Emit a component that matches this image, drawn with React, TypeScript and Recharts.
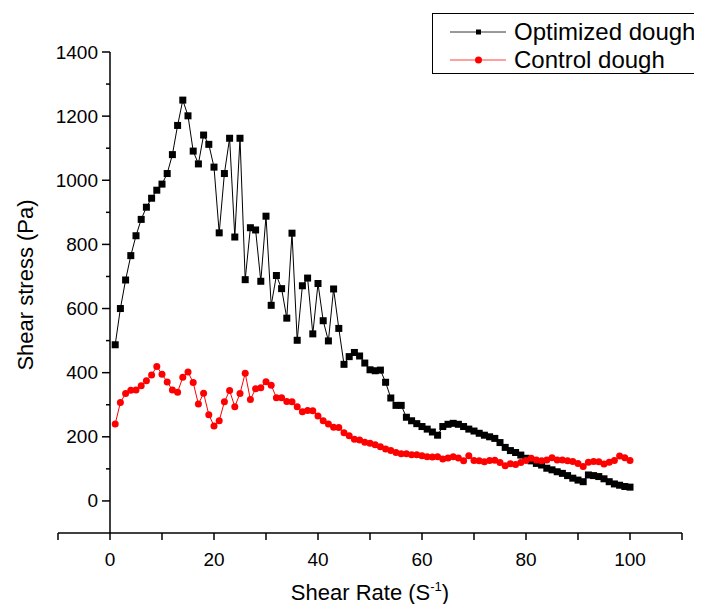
import { LineChart, Line, XAxis, YAxis, ReferenceLine } from "recharts"

const shearRate = [
  1, 2, 3, 4, 5, 6, 7, 8, 9, 10, 11, 12, 13, 14, 15, 16, 17, 18, 19, 20,
  21, 22, 23, 24, 25, 26, 27, 28, 29, 30, 31, 32, 33, 34, 35, 36, 37, 38, 39, 40,
  41, 42, 43, 44, 45, 46, 47, 48, 49, 50, 51, 52, 53, 54, 55, 56, 57, 58, 59, 60,
  61, 62, 63, 64, 65, 66, 67, 68, 69, 70, 71, 72, 73, 74, 75, 76, 77, 78, 79, 80,
  81, 82, 83, 84, 85, 86, 87, 88, 89, 90, 91, 92, 93, 94, 95, 96, 97, 98, 99, 100,
]

const optimizedStress = [
  487, 600, 689, 765, 827, 878, 916, 944, 969, 988,
  1021, 1080, 1171, 1250, 1201, 1091, 1051, 1141, 1112, 1041,
  836, 1021, 1131, 823, 1131, 690, 852, 845, 685, 888,
  610, 703, 662, 570, 835, 501, 671, 695, 521, 678,
  562, 499, 661, 538, 426, 450, 463, 452, 430, 409,
  406, 408, 370, 321, 298, 298, 261, 250, 241, 232,
  224, 215, 205, 232, 239, 242, 239, 232, 224, 218,
  211, 205, 200, 195, 182, 167, 157, 151, 143, 133,
  125, 117, 112, 102, 97, 91, 86, 79, 71, 65,
  60, 81, 79, 76, 69, 60, 53, 49, 45, 43,
]

const controlStress = [
  240, 307, 335, 345, 346, 359, 375, 393, 419, 395,
  371, 346, 339, 386, 402, 369, 302, 336, 269, 234,
  250, 309, 344, 294, 335, 398, 316, 350, 353, 372,
  361, 322, 322, 310, 309, 294, 278, 282, 281, 265,
  250, 240, 230, 229, 213, 203, 192, 190, 183, 180,
  175, 169, 162, 157, 151, 147, 147, 144, 144, 141,
  138, 137, 138, 131, 134, 138, 134, 125, 141, 126,
  125, 122, 126, 127, 120, 110, 116, 114, 120, 126,
  133, 128, 125, 128, 135, 128, 128, 125, 123, 117,
  107, 121, 123, 122, 115, 121, 126, 140, 135, 126,
]

const xTicks = [-10, 0, 10, 20, 30, 40, 50, 60, 70, 80, 90, 100, 110]
const yTicks = [0, 100, 200, 300, 400, 500, 600, 700, 800, 900, 1000, 1100, 1200, 1300, 1400]

const seriesNames = ["Optimized dough", "Control dough"]

const data = shearRate.map((x, i) => ({
  x,
  optimized: optimizedStress[i],
  control: controlStress[i],
}))

const FONT = "'Liberation Sans', Arial, sans-serif"
const W = 694
const H = 604
const Y_AXIS_W = 50
const MARGIN = { top: 44, right: 20, left: 0, bottom: 0 }
const X_MIN = -10
const X_MAX = 110
const PLOT_W = W - Y_AXIS_W - MARGIN.right
// y axis sits at x = 0, not at the left edge of the plot
const AXIS_X = Y_AXIS_W + (PLOT_W * (0 - X_MIN)) / (X_MAX - X_MIN)

const YTick = (props: any) => {
  const { y, payload } = props
  const v = payload.value
  const major = v % 200 === 0
  return (
    <g>
      <line x1={AXIS_X - (major ? 8 : 4)} x2={AXIS_X} y1={y} y2={y} stroke="#000" strokeWidth={1.5} />
      {major && (
        <text x={AXIS_X - 12} y={y} dy={6.5} textAnchor="end" fontSize={19} fontFamily={FONT} fill="#000">
          {v}
        </text>
      )}
    </g>
  )
}

const XTick = (props: any) => {
  const { x, y, payload } = props
  const v = payload.value
  if (v % 20 !== 0 || v < 0 || v > 100) return <g />
  return (
    <text x={x} y={y} dy={24} textAnchor="middle" fontSize={19} fontFamily={FONT} fill="#000">
      {v}
    </text>
  )
}

const SquareDot = (p: any) => (
  <rect key={`o-${p.index}`} x={p.cx - 3.5} y={p.cy - 3.5} width={7} height={7} fill="#000" />
)

const CircleDot = (p: any) => (
  <circle key={`c-${p.index}`} cx={p.cx} cy={p.cy} r={3.5} fill="#ff0000" />
)

export default function App() {
  return (
    <div style={{ position: "relative", width: W, height: H, marginBottom: -8, overflow: "hidden", fontFamily: FONT }}>
      <LineChart width={W} height={H} data={data} margin={MARGIN}>
        <XAxis
          type="number"
          dataKey="x"
          domain={[X_MIN, X_MAX]}
          ticks={xTicks}
          interval={0}
          height={79}
          tickSize={7}
          axisLine={{ stroke: "#000", strokeWidth: 1.5 }}
          tickLine={{ stroke: "#000", strokeWidth: 1.5 }}
          tick={<XTick />}
          label={{
            content: () => (
              <text x={362} y={592} textAnchor="middle" fontSize={22} fontFamily={FONT} fill="#000">
                <tspan>Shear Rate (S</tspan>
                <tspan dy={-9} fontSize={13}>-1</tspan>
                <tspan dy={9}>)</tspan>
              </text>
            ),
          }}
        />
        <YAxis
          type="number"
          domain={[-100, 1400]}
          ticks={yTicks}
          interval={0}
          width={Y_AXIS_W}
          axisLine={false}
          tickLine={false}
          tick={<YTick />}
        />
        <ReferenceLine x={0} stroke="#000" strokeWidth={1.5} />
        <Line
          dataKey="optimized"
          name={seriesNames[0]}
          stroke="#000"
          strokeWidth={1}
          dot={SquareDot}
          isAnimationActive={false}
        />
        <Line
          dataKey="control"
          name={seriesNames[1]}
          stroke="#ff0000"
          strokeWidth={1}
          dot={CircleDot}
          isAnimationActive={false}
        />
        <text
          x={17}
          y={277}
          transform="rotate(-90 17 277)"
          textAnchor="middle"
          dominantBaseline="central"
          fontSize={22}
          fontFamily={FONT}
          fill="#000"
        >
          Shear stress (Pa)
        </text>
      </LineChart>
      <div
        style={{
          position: "absolute",
          left: 424,
          top: 5,
          width: 270,
          height: 61,
          borderTop: "1px solid #000",
          borderLeft: "1px solid #000",
          borderBottom: "1px solid #000",
          boxSizing: "border-box",
        }}
      >
        {seriesNames.map((name, i) => (
          <div
            key={name}
            style={{ position: "absolute", left: 17, top: i === 0 ? 5 : 33, height: 26, display: "flex", alignItems: "center" }}
          >
            <svg width={58} height={12}>
              <line x1={0} x2={56} y1={6} y2={6} stroke={i === 0 ? "#333" : "#ff4040"} strokeWidth={1} />
              {i === 0 ? (
                <rect x={26} y={3.5} width={5} height={5} fill="#000" />
              ) : (
                <circle cx={28.5} cy={6} r={3.5} fill="#ff0000" />
              )}
            </svg>
            <span style={{ marginLeft: 6, fontSize: 24, lineHeight: "26px", whiteSpace: "nowrap", color: "#000" }}>
              {name}
            </span>
          </div>
        ))}
      </div>
    </div>
  )
}
